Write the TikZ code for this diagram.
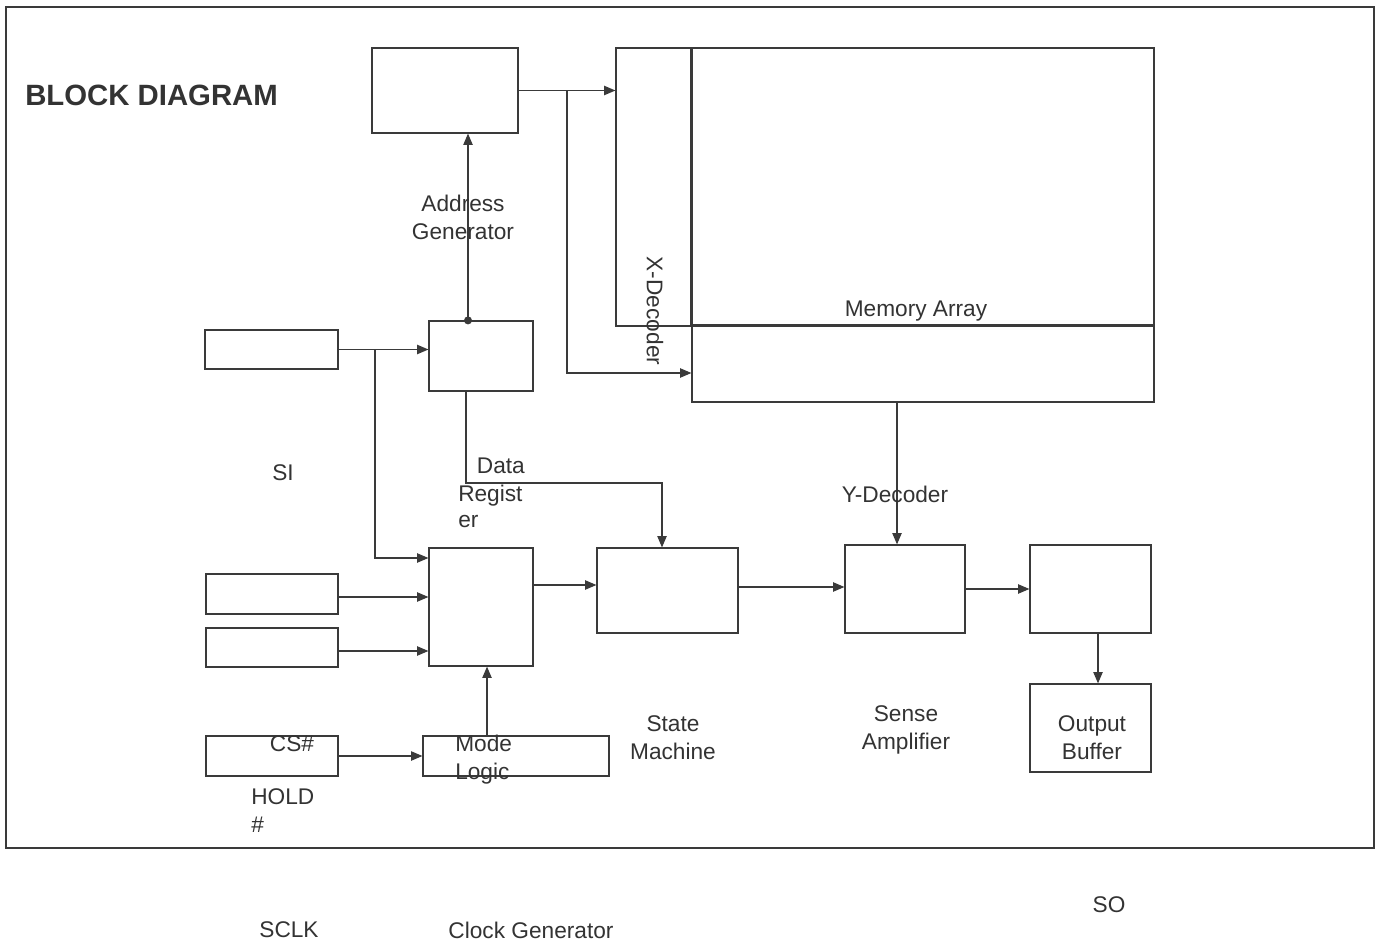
\documentclass[tikz,border=0pt]{standalone}
\usepackage{fontspec}
\setmainfont{Liberation Sans}
\usetikzlibrary{fit,arrows.meta}
\definecolor{ln}{HTML}{3A3A3A}
\definecolor{tx}{HTML}{333333}
\begin{document}
\begin{tikzpicture}[x=0.75pt,y=-0.75pt,
  blk/.style={draw=ln,line width=0.9pt,inner sep=0pt},
  arr/.style={draw=ln,line width=0.9pt,-{Triangle[length=8.5pt,width=7pt]}},
  wire/.style={draw=ln,line width=0.9pt},
  lbl/.style={text=tx,font=\fontsize{17}{21}\selectfont,inner sep=0pt,align=center}]
\useasboundingbox (0,0) rectangle (1379,942);
\fill[white] (0,0) rectangle (1379,942);
\draw[draw=ln,line width=1.9pt] (6,7) rectangle (1374,848);

% blocks
\node[blk,fit={(372,48) (518,133)}] (ag) {};
\node[blk,fit={(616,48) (692,326)}] (xd) {};
\node[blk,fit={(692,48) (1154,325)}] (ma) {};
\node[blk,fit={(692,325) (1154,402)}] (yb) {};
\draw[draw=ln,line width=1.5pt] (ma.north west) -- (ma.south west) -- (ma.south east);
\node[blk,fit={(429,321) (533,391)}] (dr) {};
\node[blk,fit={(205,330) (338,369)}] (si) {};
\node[blk,fit={(429,548) (533,666)}] (mb) {};
\node[blk,fit={(206,574) (338,614)}] (b2) {};
\node[blk,fit={(206,628) (338,667)}] (b3) {};
\node[blk,fit={(206,736) (338,776)}] (b4) {};
\node[blk,fit={(423,736) (609,776)}] (ml) {};
\node[blk,fit={(597,548) (738,633)}] (sm) {};
\node[blk,fit={(845,545) (965,633)}] (sa) {};
\node[blk,fit={(1030,545) (1151,633)}] (ob) {};
\node[blk,fit={(1030,684) (1151,772)}] (buf) {};

% junctions
\coordinate (j1) at (567,91);
\coordinate (j2) at (375,350);
\coordinate (j3) at (662,483);

% connectors
\draw[arr] (ag.east) -- (xd.west |- ag.east);
\draw[arr] (j1) |- (yb.west |- 0,373);
\fill[ln] (dr.north -| 468,0) circle (4);
\draw[arr] (dr.north -| 468,0) -- (ag.south -| 468,0);
\draw[arr] (si.east) -- (dr.west |- si.east);
\draw[arr] (j2) |- (mb.west |- 0,558);
\draw[arr] (dr.south -| 466,0) |- (j3) -- (sm.north -| j3);
\draw[arr] (b2.east |- 0,597) -- (mb.west |- 0,597);
\draw[arr] (b3.east |- 0,651) -- (mb.west |- 0,651);
\draw[arr] (b4.east) -- (ml.west |- b4.east);
\draw[arr] (ml.north -| 487,0) -- (mb.south -| 487,0);
\draw[arr] (mb.east |- 0,585) -- (sm.west |- 0,585);
\draw[arr] (sm.east |- 0,587) -- (sa.west |- 0,587);
\draw[arr] (yb.south -| 897,0) -- (sa.north -| 897,0);
\draw[arr] (sa.east |- 0,589) -- (ob.west |- 0,589);
\draw[arr] (ob.south -| 1098,0) -- (buf.north -| 1098,0);

% labels
\node[lbl,anchor=west,font=\fontsize{22}{26}\bfseries] (title) at (25,95) {BLOCK DIAGRAM};
\node[lbl] (tag) at (463,217) {Address\\Generator};
\node[lbl,rotate=-90] (txd) at (655,311) {X-Decoder};
\node[lbl] (tma) at (916,311) {Memory Array};
\node[lbl] (tsi) at (283,473) {SI};
\node[lbl,align=left,anchor=north west,font=\fontsize{17}{19.5}\selectfont] (tdr) at (458,458) {\hspace*{14pt}Data\\[1.5pt]Regist\\er};
\node[lbl] (tyd) at (895,494) {Y-Decoder};
\node[lbl] (tsm) at (673,738) {State\\Machine};
\node[lbl] (tsa) at (906,730) {Sense\\Amplifier};
\node[lbl] (tob) at (1092,738) {Output\\Buffer};
\node[lbl] (tcs) at (292,744) {CS\#};
\node[lbl,align=left,anchor=west] (tml) at (455,760) {Mode\\Logic};
\node[lbl,align=left,anchor=west] (thd) at (251,811) {HOLD\\\#};
\node[lbl] (tsc) at (289,930) {SCLK};
\node[lbl] (tcg) at (531,930) {Clock Generator};
\node[lbl] (tso) at (1109,905) {SO};
\end{tikzpicture}
\end{document}
